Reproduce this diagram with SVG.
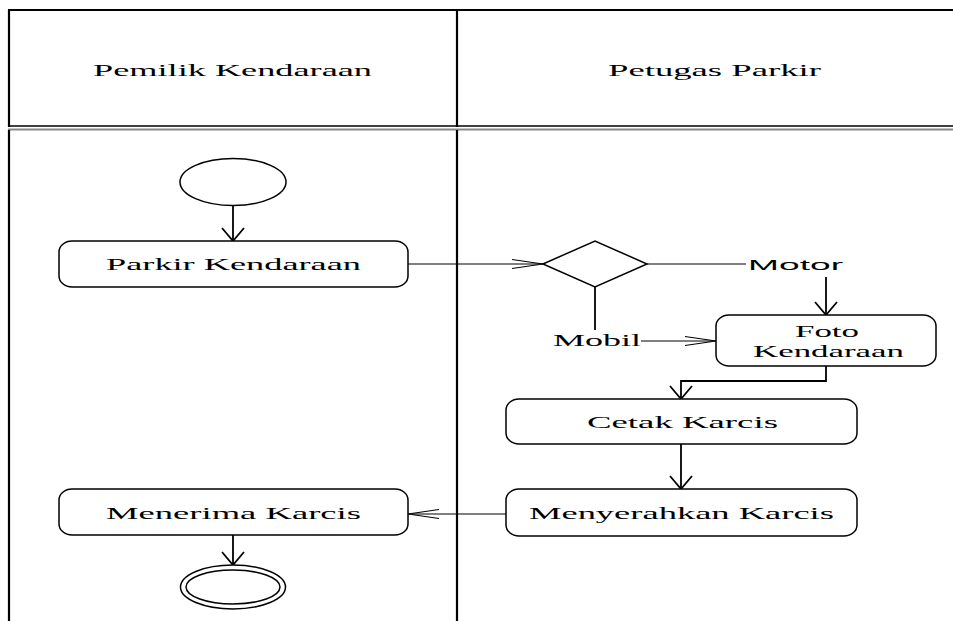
<svg xmlns="http://www.w3.org/2000/svg" width="953" height="621" viewBox="0 0 953 621">
  <style>
    .lane { stroke: #000; stroke-width: 2.2; fill: none; }
    .box { fill: #fff; stroke: #000; stroke-width: 1.5; }
    .conn { fill: none; stroke: #000; stroke-width: 1.2; }
    .vconn { fill: none; stroke: #000; stroke-width: 1.8; }
    .serif { font-family: "Liberation Serif", "Times New Roman", serif; font-size: 17px; fill: #000; }
    .sans { font-family: "Liberation Sans", Arial, sans-serif; font-size: 14px; fill: #000; }
  </style>
  <defs>
    <!-- open arrowheads: a long narrow one for horizontal flows, a wide short one for vertical flows -->
    <marker id="arrH" markerUnits="userSpaceOnUse" markerWidth="34" markerHeight="12" viewBox="-32 -6 34 12" refX="0" refY="0" orient="auto">
      <path d="M-31,-4.5 L0,0 L-31,4.5" fill="none" stroke="#000" stroke-width="1.1"/>
    </marker>
    <marker id="arrV" markerUnits="userSpaceOnUse" markerWidth="16" markerHeight="26" viewBox="-15 -13 16 26" refX="0" refY="0" orient="auto">
      <path d="M-13,-11 L0,0 L-13,11" fill="none" stroke="#000" stroke-width="1.8"/>
    </marker>
  </defs>

  <rect width="953" height="621" fill="#fff"/>

  <!-- swimlane frame -->
  <g id="swimlanes">
    <line class="lane" x1="8" y1="10" x2="953" y2="10"/>
    <line x1="8" y1="126" x2="953" y2="126" stroke="#000" stroke-width="1.6"/>
    <line x1="8" y1="129.5" x2="953" y2="129.5" stroke="#888" stroke-width="2"/>
    <line class="lane" x1="9" y1="10" x2="9" y2="127"/>
    <line class="lane" x1="9" y1="130" x2="9" y2="621"/>
    <line class="lane" x1="457" y1="10" x2="457" y2="127"/>
    <line class="lane" x1="457" y1="130" x2="457" y2="621"/>
    <!-- wide lettering: glyphs scaled 2.2x horizontally, length fixed by textLength -->
    <text class="serif" font-size="16" transform="translate(93,76) scale(2.2,1)" textLength="126.8" lengthAdjust="spacingAndGlyphs">Pemilik Kendaraan</text>
    <text class="serif" font-size="16" transform="translate(608,76) scale(2.2,1)" textLength="96.8" lengthAdjust="spacingAndGlyphs">Petugas Parkir</text>
  </g>

  <!-- connectors -->
  <g id="connectors">
    <line class="vconn" x1="233" y1="206" x2="233" y2="241" marker-end="url(#arrV)"/>
    <line class="conn" x1="408" y1="264" x2="543" y2="264" marker-end="url(#arrH)"/>
    <line class="conn" x1="647" y1="264" x2="746" y2="264"/>
    <line class="vconn" x1="826" y1="277" x2="826" y2="315" marker-end="url(#arrV)"/>
    <line class="vconn" x1="595" y1="287" x2="595" y2="330"/>
    <line class="conn" x1="641" y1="341" x2="716" y2="341" marker-end="url(#arrH)"/>
    <polyline class="vconn" points="826,366 826,381 681,381 681,399" marker-end="url(#arrV)"/>
    <line class="vconn" x1="681" y1="444" x2="681" y2="489" marker-end="url(#arrV)"/>
    <line class="conn" x1="506" y1="514" x2="408" y2="514" marker-end="url(#arrH)"/>
    <line class="vconn" x1="233" y1="535" x2="233" y2="565" marker-end="url(#arrV)"/>
    <text class="sans" transform="translate(748,270) scale(2.4,1)" textLength="39.6" lengthAdjust="spacingAndGlyphs">Motor</text>
    <text class="serif" transform="translate(553,346) scale(2.2,1)" textLength="40" lengthAdjust="spacingAndGlyphs">Mobil</text>
  </g>

  <!-- start node -->
  <g id="start">
    <ellipse class="box" cx="233" cy="182" rx="53" ry="23.5"/>
  </g>

  <g id="parkir-kendaraan">
    <rect class="box" x="59" y="241" width="349" height="46" rx="13" ry="11"/>
    <text class="serif" transform="translate(106,270) scale(2.2,1)" textLength="115.9" lengthAdjust="spacingAndGlyphs">Parkir Kendaraan</text>
  </g>

  <!-- decision: motor / mobil -->
  <g id="decision">
    <polygon class="box" points="543,264 595,241 647,264 595,287"/>
  </g>

  <g id="foto-kendaraan">
    <rect class="box" x="716" y="315" width="220" height="51" rx="13" ry="11"/>
    <text class="serif" transform="translate(795,337) scale(2.2,1)" textLength="29.1" lengthAdjust="spacingAndGlyphs">Foto</text>
    <text class="serif" transform="translate(753,357) scale(2.2,1)" textLength="68.6" lengthAdjust="spacingAndGlyphs">Kendaraan</text>
  </g>

  <g id="cetak-karcis">
    <rect class="box" x="506" y="399" width="351" height="45" rx="13" ry="11"/>
    <text class="serif" transform="translate(587,428) scale(2.2,1)" textLength="86.8" lengthAdjust="spacingAndGlyphs">Cetak Karcis</text>
  </g>

  <g id="menyerahkan-karcis">
    <rect class="box" x="506" y="489" width="351" height="47" rx="13" ry="11"/>
    <text class="serif" transform="translate(529,519) scale(2.2,1)" textLength="138.6" lengthAdjust="spacingAndGlyphs">Menyerahkan Karcis</text>
  </g>

  <g id="menerima-karcis">
    <rect class="box" x="59" y="489" width="349" height="46" rx="13" ry="11"/>
    <text class="serif" transform="translate(106,519) scale(2.2,1)" textLength="115.9" lengthAdjust="spacingAndGlyphs">Menerima Karcis</text>
  </g>

  <!-- end node -->
  <g id="end">
    <ellipse class="box" cx="233" cy="587" rx="52.5" ry="22"/>
    <ellipse class="box" cx="233" cy="587" rx="47" ry="17"/>
  </g>
</svg>
